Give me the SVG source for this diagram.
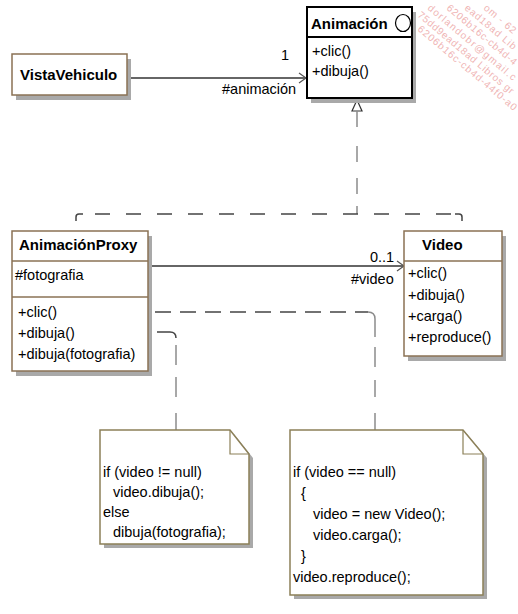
<svg xmlns="http://www.w3.org/2000/svg" width="518" height="614" viewBox="0 0 518 614">
<defs>
<style>
.bg{fill:#ffffff}
.shadow{fill:#a9a9a9}
.cls{fill:#ffffff;stroke:#8a7254;stroke-width:1.5}
.div{stroke:#8a7254;stroke-width:1.5;fill:none}
.main{fill:#ffffff;stroke:#000000;stroke-width:2}
.note{fill:#ffffff;stroke:#8c8058;stroke-width:1.5}
.fold{fill:none;stroke:#8c8058;stroke-width:1.2}
.title{font-family:"Liberation Sans",Arial,sans-serif;font-size:15px;font-weight:bold;fill:#000}
.t{font-family:"Liberation Sans",Arial,sans-serif;font-size:14.5px;fill:#000}
.assoc{stroke:#333;stroke-width:1.5;fill:none}
.head{stroke:#555;stroke-width:1.2;fill:none}
.dashdark{stroke:#444;stroke-width:1.5;fill:none}
.dashgray{stroke:#8c8c8c;stroke-width:1.5;fill:none}
.wm{font-family:"Liberation Sans",Arial,sans-serif;font-size:10px;fill:#efb4b4}
</style>
</defs>
<rect class="bg" x="0" y="0" width="518" height="614"/>

<g id="connectors">
  <!-- VistaVehiculo -> Animacion -->
  <line class="assoc" x1="127" y1="78" x2="306" y2="78"/>
  <polyline class="head" points="299,73 306,78 299,83"/>
  <text class="t" x="281" y="60">1</text>
  <text class="t" x="222" y="94">#animación</text>
  <!-- AnimacionProxy -> Video -->
  <line class="assoc" x1="148" y1="266" x2="403" y2="266"/>
  <polyline class="head" points="397,261 404,266 397,271"/>
  <text class="t" x="370" y="262">0..1</text>
  <text class="t" x="351" y="284">#video</text>
  <!-- realization -->
  <polygon points="357,100 352,111 362,111" fill="#ffffff" stroke="#333" stroke-width="1.2"/>
  <path class="dashgray" d="M357,111V127M357,146V162M357,178V194M357,206V214"/>
  <path class="dashdark" d="M95,214H451" stroke-dasharray="15 16"/>
  <path class="dashdark" d="M76,221V217Q76,214 79,214H83"/>
  <path class="dashdark" d="M455,214H459Q462,214 462,217V221"/>
  <!-- note anchors -->
  <circle cx="145" cy="312" r="2.5" fill="#fff" stroke="#a48c70" stroke-width="1"/>
  <circle cx="145" cy="332" r="2.5" fill="#fff" stroke="#a48c70" stroke-width="1"/>
  <path class="dashdark" d="M155,312H368" stroke-dasharray="16 9"/>
  <path class="dashgray" d="M368,312Q375,312 375,319V337"/>
  <path class="dashgray" d="M375,347V367M375,380V397M375,413V430"/>
  <path class="dashdark" d="M157,332H170Q176,332 176,338"/>
  <path class="dashgray" d="M176,345V365M176,377V397M176,413V430"/>
</g>

<g id="Animacion">
  <rect class="shadow" x="311" y="12" width="105" height="91"/>
  <rect class="main" x="307" y="7" width="105" height="91"/>
  <line x1="307" y1="37" x2="412" y2="37" stroke="#000" stroke-width="2"/>
  <text class="title" x="311" y="29">Animación</text>
  <ellipse cx="403" cy="23" rx="7.5" ry="8.5" fill="#fff" stroke="#000" stroke-width="1.2"/>
  <text class="t" x="312" y="56">+clic()</text>
  <text class="t" x="312" y="76">+dibuja()</text>
</g>

<g id="VistaVehiculo">
  <rect class="shadow" x="16" y="59" width="115" height="41"/>
  <rect class="cls" x="12" y="54" width="115" height="41"/>
  <text class="title" x="20" y="80">VistaVehiculo</text>
</g>

<g id="AnimacionProxy">
  <rect class="shadow" x="16" y="236" width="136" height="140"/>
  <rect class="cls" x="12" y="231" width="136" height="140"/>
  <line class="div" x1="12" y1="261" x2="148" y2="261"/>
  <line class="div" x1="12" y1="297" x2="148" y2="297"/>
  <text class="title" x="19" y="250">AnimaciónProxy</text>
  <text class="t" x="15" y="280">#fotografia</text>
  <text class="t" x="18" y="317">+clic()</text>
  <text class="t" x="18" y="338">+dibuja()</text>
  <text class="t" x="18" y="359">+dibuja(fotografia)</text>
</g>

<g id="Video">
  <rect class="shadow" x="408" y="236" width="98" height="125"/>
  <rect class="cls" x="404" y="231" width="98" height="125"/>
  <line class="div" x1="404" y1="261" x2="502" y2="261"/>
  <text class="title" x="422" y="250">Video</text>
  <text class="t" x="408" y="278">+clic()</text>
  <text class="t" x="408" y="300">+dibuja()</text>
  <text class="t" x="408" y="321">+carga()</text>
  <text class="t" x="408" y="342">+reproduce()</text>
</g>

<g id="note1">
  <path class="shadow" d="M104,434H234L253,458V548H104Z"/>
  <path class="note" d="M100,430H230L249,454V544H100Z"/>
  <path class="fold" d="M230,430V454H249"/>
  <text class="t" x="103" y="477">if (video != null)</text>
  <text class="t" x="113" y="497">video.dibuja();</text>
  <text class="t" x="103" y="517">else</text>
  <text class="t" x="113" y="537">dibuja(fotografia);</text>
</g>

<g id="note2">
  <path class="shadow" d="M294,434H467L487,458V599H294Z"/>
  <path class="note" d="M290,430H463L483,454V595H290Z"/>
  <path class="fold" d="M463,430V454H483"/>
  <text class="t" x="293" y="477">if (video == null)</text>
  <text class="t" x="301" y="498">{</text>
  <text class="t" x="313" y="519">video = new Video();</text>
  <text class="t" x="313" y="540">video.carga();</text>
  <text class="t" x="301" y="561">}</text>
  <text class="t" x="293" y="582">video.reproduce();</text>
</g>

<g id="watermark">
  <text class="wm" transform="translate(417,30) rotate(40)" textLength="126" lengthAdjust="spacing">6206b16c-cb4d-44f0-a0</text>
  <text class="wm" transform="translate(417,16) rotate(40)" textLength="122" lengthAdjust="spacing">75dd9ead18ad Libros gr</text>
  <text class="wm" transform="translate(427,9) rotate(40)" textLength="112" lengthAdjust="spacing">dorlandobr@gmail.c</text>
  <text class="wm" transform="translate(446,9) rotate(40)" textLength="88" lengthAdjust="spacing">6206b16c-cb4d-4</text>
  <text class="wm" transform="translate(464,9) rotate(40)" textLength="64" lengthAdjust="spacing">ead18ad Lib</text>
  <text class="wm" transform="translate(483,9) rotate(40)" textLength="39" lengthAdjust="spacing">om - 62</text>
</g>
</svg>
